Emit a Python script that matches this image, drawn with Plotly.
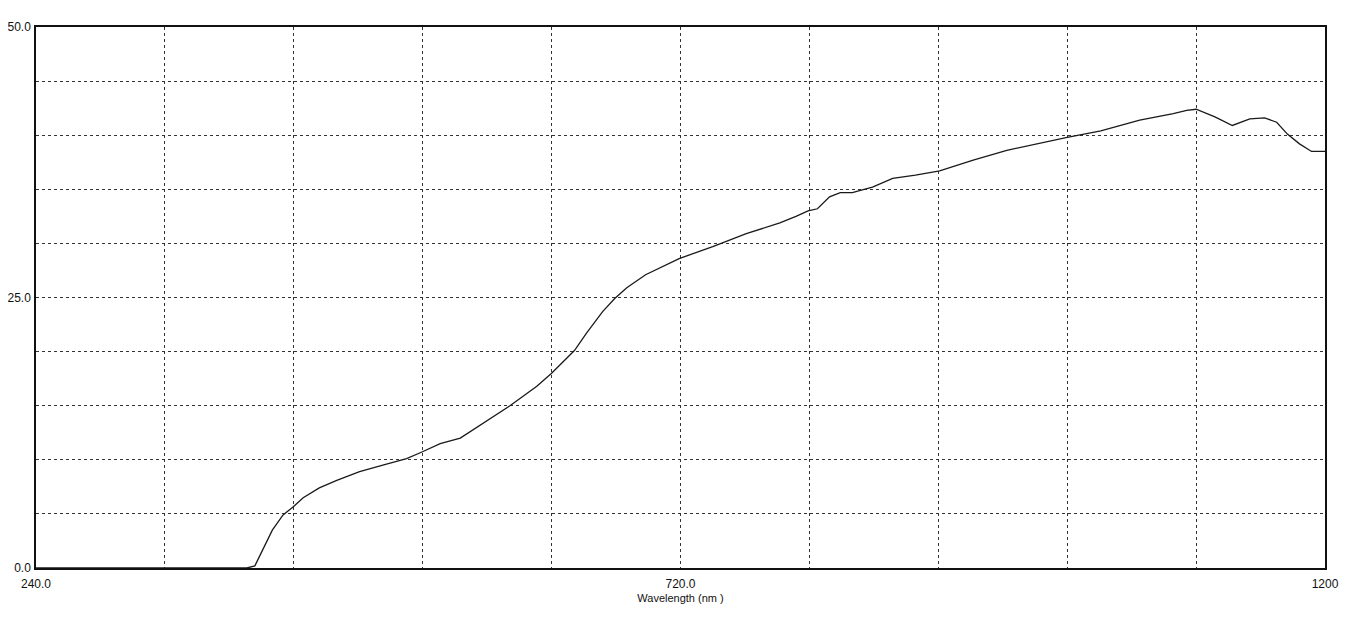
import plotly.graph_objects as go

# Spectrum (wavelength in nm, transmittance)
wavelength = [240, 397, 403, 409, 416, 424, 431, 439, 451, 464, 481, 501, 516,
              527, 541, 556, 573, 593, 613, 624, 641, 650, 662, 671, 680, 694,
              719, 744, 769, 794, 806, 815, 822, 831, 839, 848, 854, 863, 878,
              895, 913, 938, 963, 988, 1008, 1033, 1062, 1087, 1097, 1104, 1118,
              1131, 1144, 1155, 1164, 1172, 1181, 1190, 1200]
signal = [0.0, 0.0, 0.2, 1.7, 3.5, 4.9, 5.6, 6.5, 7.4, 8.1, 8.9, 9.6, 10.1,
          10.7, 11.5, 12.0, 13.4, 15.0, 16.8, 18.0, 20.1, 21.7, 23.7, 24.9, 25.9, 27.1,
          28.6, 29.7, 30.9, 31.9, 32.5, 33.0, 33.2, 34.3, 34.7, 34.7, 34.9, 35.2, 36.0,
          36.3, 36.7, 37.7, 38.6, 39.3, 39.8, 40.4, 41.4, 42.0, 42.3, 42.4, 41.7,
          40.9, 41.5, 41.6, 41.2, 40.1, 39.2, 38.5, 38.5]

x_ticks = [240 + 96 * i for i in range(11)]
x_labels = ["240.0", "", "", "", "", "720.0", "", "", "", "", "1200"]
y_ticks = [5 * i for i in range(11)]
y_labels = ["0.0", "", "", "", "", "25.0", "", "", "", "", "50.0"]

_FONT = dict(family="Liberation Sans, Arial, sans-serif", size=12, color="#111")

fig = go.Figure()
fig.add_trace(go.Scatter(
    x=wavelength, y=signal,
    mode="lines",
    line=dict(color="#1a1a1a", width=1.3),
    showlegend=False,
))

# the page body adds an 8px offset, so margins are shifted to compensate
fig.update_layout(
    width=1348, height=616,
    paper_bgcolor="white",
    plot_bgcolor="white",
    font=_FONT,
    margin=dict(l=28, r=31, t=19, b=56),
)
fig.update_xaxes(
    range=[240, 1200], automargin=False,
    tickmode="array", tickvals=x_ticks, ticktext=x_labels,
    showgrid=True, gridcolor="#333", griddash="dot", gridwidth=1,
    showline=True, linecolor="#111", linewidth=1.5, mirror=True,
    zeroline=False, ticks="", ticklabelstandoff=4,
    title=dict(text="Wavelength (nm )", font=dict(size=11), standoff=4),
)
fig.update_yaxes(
    range=[0, 50], automargin=False,
    tickmode="array", tickvals=y_ticks, ticktext=y_labels,
    showgrid=True, gridcolor="#333", griddash="dot", gridwidth=1,
    showline=True, linecolor="#111", linewidth=1.5, mirror=True,
    zeroline=False, ticks="", ticklabelstandoff=1,
)

fig.write_html("out.html")
